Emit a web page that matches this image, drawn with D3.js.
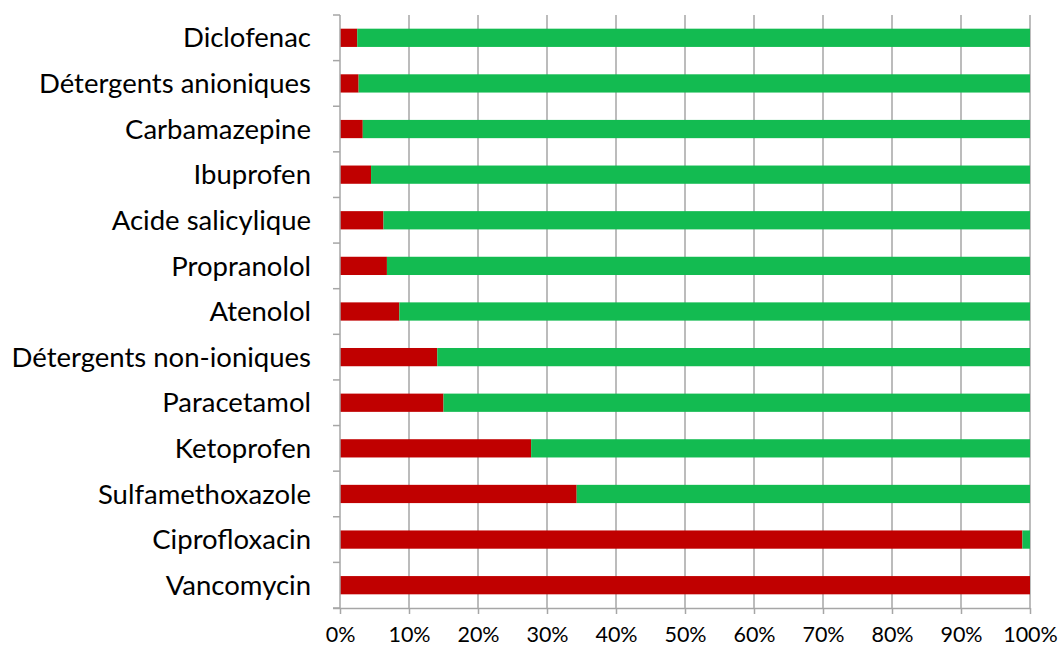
<!DOCTYPE html>
<html>
<head>
<meta charset="utf-8">
<script src="https://cdn.jsdelivr.net/npm/d3@7"></script>
<style>
  body { margin: 0; background: #fff; }
  text { font-family: Lato, "Open Sans", sans-serif; fill: #000; }
</style>
</head>
<body>
<div id="chart"></div>
<script>
// categories from top to bottom
const categories = [
    "Diclofenac", "Détergents anioniques", "Carbamazepine", "Ibuprofen",
    "Acide salicylique", "Propranolol", "Atenolol", "Détergents non-ioniques",
    "Paracetamol", "Ketoprofen", "Sulfamethoxazole", "Ciprofloxacin", "Vancomycin"
];
// red share (%)
const redValues = [2.5, 2.7, 3.3, 4.5, 6.3, 6.8, 8.6, 14.1, 15.0, 27.7, 34.3, 98.9, 100];
// green share (%)
const greenValues = [97.5, 97.3, 96.7, 95.5, 93.7, 93.2, 91.4, 85.9, 85.0, 72.3, 65.7, 1.1, 0];
const xTicks = [0, 10, 20, 30, 40, 50, 60, 70, 80, 90, 100];

const width = 1061;
const height = 650;
const margin = { top: 15, right: 31, bottom: 42, left: 340 };

const svg = d3.select("#chart")
    .append("svg")
    .attr("width", width)
    .attr("height", height);

const x = d3.scaleLinear()
    .domain([0, 100])
    .range([margin.left, width - margin.right]);

const y = d3.scaleBand()
    .domain(categories)
    .range([margin.top, height - margin.bottom])
    .paddingInner(0.6)
    .paddingOuter(0.3);

const gridColor = "#a6a6a6";

// vertical gridlines
svg.append("g")
    .selectAll("line")
    .data(xTicks.slice(1))
    .join("line")
    .attr("x1", (d) => x(d))
    .attr("x2", (d) => x(d))
    .attr("y1", margin.top)
    .attr("y2", height - margin.bottom)
    .attr("stroke", gridColor)
    .attr("stroke-width", 1.5);

const rows = categories.map((c, i) => ({ cat: c, red: redValues[i], green: greenValues[i] }));

// red segment
svg.append("g")
    .selectAll("rect")
    .data(rows)
    .join("rect")
    .attr("x", x(0))
    .attr("y", (d) => y(d.cat))
    .attr("width", (d) => x(d.red) - x(0))
    .attr("height", y.bandwidth())
    .attr("fill", "#c00000");

// green segment
svg.append("g")
    .selectAll("rect")
    .data(rows)
    .join("rect")
    .attr("x", (d) => x(d.red))
    .attr("y", (d) => y(d.cat))
    .attr("width", (d) => x(d.red + d.green) - x(d.red))
    .attr("height", y.bandwidth())
    .attr("fill", "#13bb51");

// bottom axis
const xAxis = svg.append("g")
    .attr("transform", `translate(0,${height - margin.bottom})`)
    .call(d3.axisBottom(x).tickValues(xTicks).tickSize(6).tickPadding(13).tickFormat((d) => d + "%"));
xAxis.select(".domain").attr("stroke", gridColor).attr("stroke-width", 1.5)
    .attr("d", `M${x(0) - 7},0.5H${x(100)}`);
xAxis.selectAll(".tick line").attr("stroke", gridColor).attr("stroke-width", 1.5);
xAxis.selectAll("text").style("font-size", "21.5px").attr("fill", "#000");

// left axis: ticks sit between categories
const step = y.step();
const bounds = d3.range(categories.length + 1).map((i) => margin.top + i * step);
const yAxis = svg.append("g");
yAxis.append("line")
    .attr("x1", x(0)).attr("x2", x(0))
    .attr("y1", margin.top).attr("y2", height - margin.bottom)
    .attr("stroke", gridColor).attr("stroke-width", 1.5);
yAxis.selectAll(".ytick")
    .data(bounds)
    .join("line")
    .attr("class", "ytick")
    .attr("x1", x(0) - 7).attr("x2", x(0))
    .attr("y1", (d) => d).attr("y2", (d) => d)
    .attr("stroke", gridColor).attr("stroke-width", 1.5);

yAxis.selectAll(".ylabel")
    .data(categories)
    .join("text")
    .attr("class", "ylabel")
    .attr("x", 311)
    .attr("y", (d) => y(d) + y.bandwidth() / 2)
    .attr("dy", "0.35em")
    .attr("text-anchor", "end")
    .style("font-size", "27.5px")
    .text((d) => d);
</script>
</body>
</html>
